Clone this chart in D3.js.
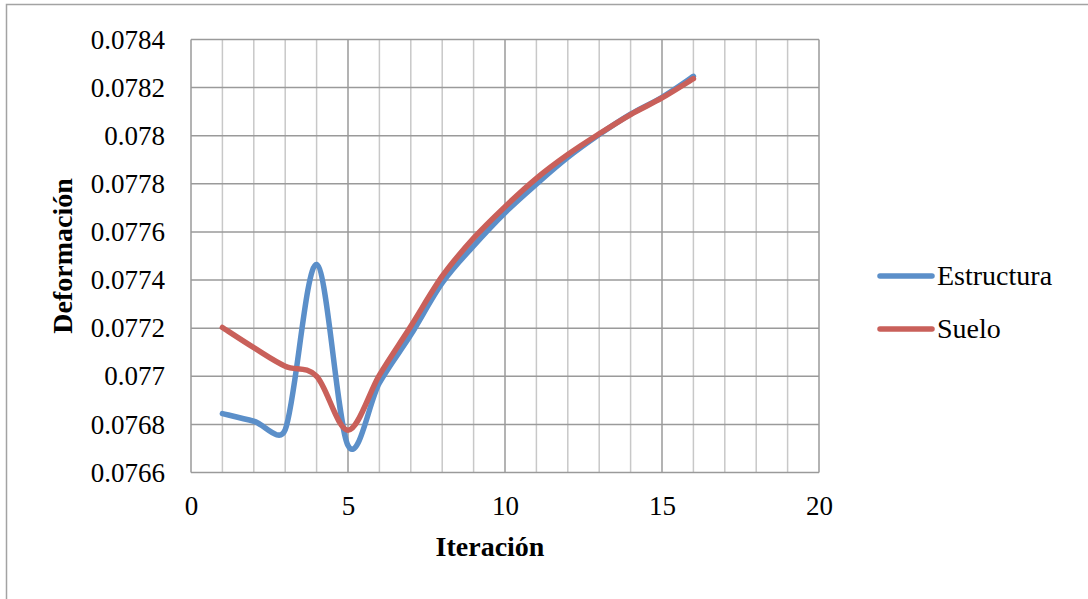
<!DOCTYPE html>
<html>
<head>
<meta charset="utf-8">
<script src="https://cdn.jsdelivr.net/npm/d3@7"></script>
<style>
  html, body { margin: 0; padding: 0; background: #fff; }
  svg { display: block; }
  text { font-family: "Liberation Serif", "Times New Roman", serif; fill: #000; }
</style>
</head>
<body>
<svg id="chart" width="1088" height="599"></svg>
<script>
// Iteration numbers and deformation values per series
const iterations = [1, 2, 3, 4, 5, 6, 7, 8, 9, 10, 11, 12, 13, 14, 15, 16];
const estructura = [0.076845, 0.076813, 0.076778, 0.077465, 0.076712, 0.076972, 0.077172, 0.077388,
                    0.077542, 0.077680, 0.077799, 0.077910, 0.078005, 0.078090, 0.078160, 0.078247];
const suelo      = [0.077203, 0.077119, 0.077042, 0.077000, 0.076776, 0.077005, 0.077208, 0.077416,
                    0.077574, 0.077705, 0.077823, 0.077922, 0.078008, 0.078088, 0.078157, 0.078237];
const seriesNames = ["Estructura", "Suelo"];
const seriesColors = ["#5b8fc9", "#c9605a"];
const xTicks = [0, 5, 10, 15, 20];
const yTicks = [0.0766, 0.0768, 0.077, 0.0772, 0.0774, 0.0776, 0.0778, 0.078, 0.0782, 0.0784];

const serif = "'Liberation Serif', 'Times New Roman', serif";
const svg = d3.select("#chart");

// outer chart frame (extends past the right/bottom edges)
svg.append("rect")
  .attr("x", 6.5).attr("y", 4.5)
  .attr("width", 1200).attr("height", 700)
  .attr("fill", "#fff").attr("stroke", "#a3a3a3").attr("stroke-width", 1.5);

const x = d3.scaleLinear().domain([0, 20]).range([191, 819]);
const y = d3.scaleLinear().domain([0.0766, 0.0784]).range([472.5, 39.5]);

const grid = svg.append("g");

// minor vertical gridlines at each iteration
grid.selectAll("line.minor")
  .data(d3.range(1, 20).filter(v => v % 5 !== 0))
  .join("line")
  .attr("class", "minor")
  .attr("x1", d => x(d)).attr("x2", d => x(d))
  .attr("y1", y(0.0784)).attr("y2", y(0.0766))
  .attr("stroke", "#c8c8c8").attr("stroke-width", 1.5);

// major vertical gridlines
grid.selectAll("line.majorx")
  .data(xTicks)
  .join("line")
  .attr("class", "majorx")
  .attr("x1", d => x(d)).attr("x2", d => x(d))
  .attr("y1", y(0.0784)).attr("y2", y(0.0766))
  .attr("stroke", "#9a9a9a").attr("stroke-width", 1.5);

// horizontal gridlines
grid.selectAll("line.majory")
  .data(yTicks)
  .join("line")
  .attr("class", "majory")
  .attr("x1", x(0)).attr("x2", x(20))
  .attr("y1", d => y(d)).attr("y2", d => y(d))
  .attr("stroke", "#9a9a9a").attr("stroke-width", 1.5);

// axes (labels only, no tick marks)
const yAxis = d3.axisLeft(y).tickValues(yTicks).tickSize(0).tickPadding(26)
  .tickFormat(d => +d.toFixed(4) + "");
const gy = svg.append("g").attr("transform", `translate(${x(0)},0)`).call(yAxis)
  .attr("font-family", serif).attr("font-size", 27);
gy.select(".domain").remove();

const xAxis = d3.axisBottom(x).tickValues(xTicks).tickSize(0).tickPadding(23);
const gx = svg.append("g").attr("transform", `translate(0,${y(0.0766)})`).call(xAxis)
  .attr("font-family", serif).attr("font-size", 27);
gx.select(".domain").remove();

// axis titles
svg.append("text")
  .attr("x", 490).attr("y", 556)
  .attr("text-anchor", "middle")
  .style("font-size", "28px").style("font-weight", "bold")
  .text("Iteración");

svg.append("text")
  .attr("transform", "translate(72,256) rotate(-90)")
  .attr("text-anchor", "middle")
  .style("font-size", "28px").style("font-weight", "bold")
  .text("Deformación");

// Smoothed Bezier curve: tangents follow neighbouring points (tension 1/6),
// with each control arm clamped to half of its segment length.
function smoothPath(pts) {
  const p = d3.path();
  const n = pts.length;
  const f = 1 / 6;
  const dist = (a, b) => Math.hypot(b[0] - a[0], b[1] - a[1]);
  const tangent = i => {
    const a = pts[Math.max(0, i - 1)], b = pts[Math.min(n - 1, i + 1)];
    return [b[0] - a[0], b[1] - a[1]];
  };
  p.moveTo(pts[0][0], pts[0][1]);
  for (let i = 0; i < n - 1; i++) {
    const p0 = pts[i], p1 = pts[i + 1];
    const seg = dist(p0, p1);
    const t0 = tangent(i), t1 = tangent(i + 1);
    const l0 = Math.hypot(t0[0], t0[1]) || 1, l1 = Math.hypot(t1[0], t1[1]) || 1;
    const f0 = Math.min(f, 0.5 * seg / l0);
    const f1 = Math.min(f, 0.5 * seg / l1);
    p.bezierCurveTo(
      p0[0] + t0[0] * f0, p0[1] + t0[1] * f0,
      p1[0] - t1[0] * f1, p1[1] - t1[1] * f1,
      p1[0], p1[1]);
  }
  return p.toString();
}

[estructura, suelo].forEach((vals, i) => {
  const pts = iterations.map((it, j) => [x(it), y(vals[j])]);
  svg.append("path")
    .attr("d", smoothPath(pts))
    .attr("fill", "none")
    .attr("stroke", seriesColors[i])
    .attr("stroke-width", 5.5)
    .attr("stroke-linecap", "round")
    .attr("stroke-linejoin", "round");
});

// legend
const legend = svg.append("g");
seriesNames.forEach((name, i) => {
  const ly = 276 + i * 53;
  legend.append("line")
    .attr("x1", 880).attr("x2", 932)
    .attr("y1", ly).attr("y2", ly)
    .attr("stroke", seriesColors[i]).attr("stroke-width", 5.5)
    .attr("stroke-linecap", "round");
  legend.append("text")
    .attr("x", 937).attr("y", ly + 9)
    .style("font-size", "28px")
    .text(name);
});
</script>
</body>
</html>
